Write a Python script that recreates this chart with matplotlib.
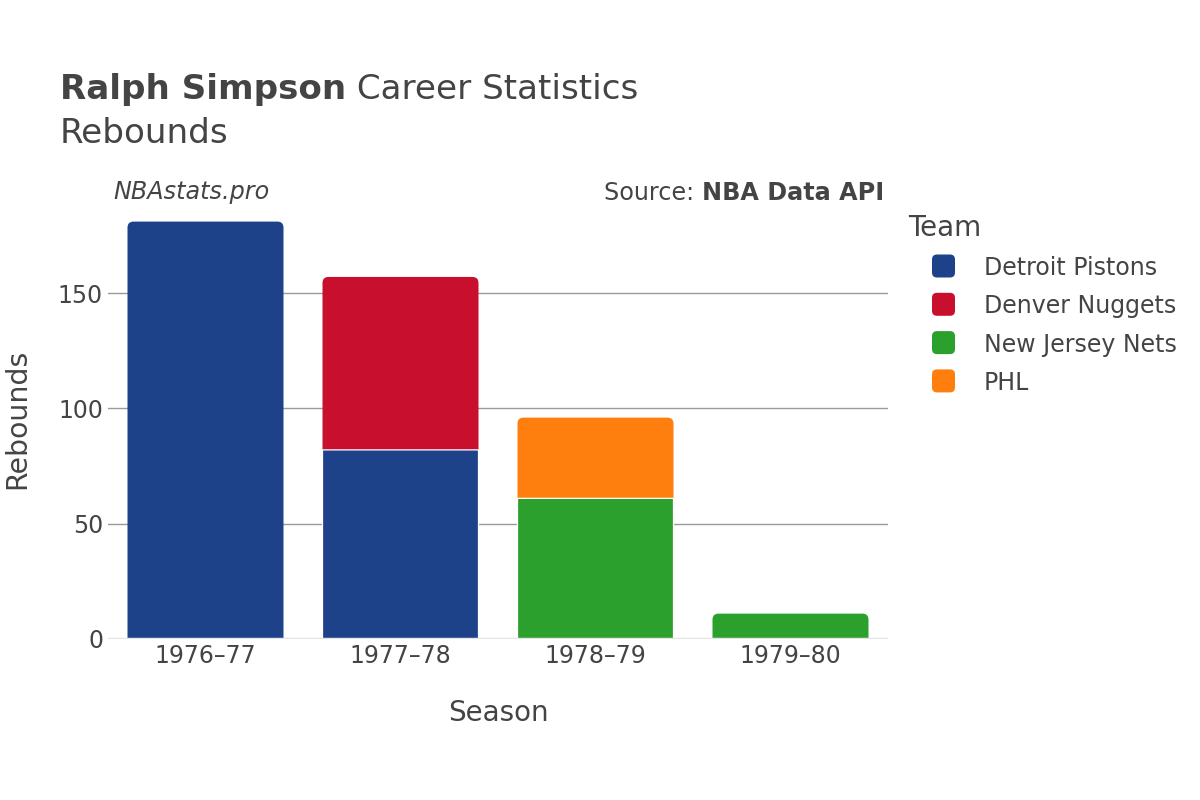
import numpy as np
import matplotlib
matplotlib.use("Agg")
import matplotlib.pyplot as plt
from matplotlib.patches import FancyBboxPatch, PathPatch
from matplotlib.path import Path

# ── Data ──────────────────────────────────────────────────────────────────────
seasons = ["1976–77", "1977–78", "1978–79", "1979–80"]
teams = ["Detroit Pistons", "Denver Nuggets", "New Jersey Nets", "PHL"]
team_colors = ["#1d428a", "#c8102e", "#2ca02c", "#ff7f0e"]

detroit = [181, 82, 0, 0]
denver = [0, 75, 0, 0]
new_jersey = [0, 0, 61, 11]
phl = [0, 0, 35, 0]
series = [detroit, denver, new_jersey, phl]

yticks = [0, 50, 100, 150]

TEXT = "#444444"
W, H = 1200, 800


def top_rounded_path(x0, y0, w, h, rx, ry):
    """Rectangle path with only the two top corners rounded."""
    x1, y1 = x0 + w, y0 + h
    ry = min(ry, h)
    verts = [(x0, y0), (x1, y0), (x1, y1 - ry), (x1, y1), (x1 - rx, y1),
             (x0 + rx, y1), (x0, y1), (x0, y1 - ry), (x0, y0)]
    codes = [Path.MOVETO, Path.LINETO, Path.LINETO, Path.CURVE3, Path.CURVE3,
             Path.LINETO, Path.CURVE3, Path.CURVE3, Path.CLOSEPOLY]
    return Path(verts, codes)


# ── Figure / axes ─────────────────────────────────────────────────────────────
fig = plt.figure(figsize=(W / 100, H / 100), dpi=100)
ax = fig.add_axes([108 / W, 1 - 639 / H, 780 / W, 437 / H])

x = np.arange(len(seasons))
ymax = 189.5
ax.set_xlim(-0.5, len(seasons) - 0.5)
ax.set_ylim(0, ymax)

# pixels per data unit, used to keep the bar corners circular
px_x = 780 / len(seasons)
px_y = 437 / ymax
corner_px = 6

bottom = np.zeros(len(seasons))
segments = [[] for _ in seasons]
for team, vals, color in zip(teams, series, team_colors):
    vals = np.array(vals, dtype=float)
    bars = ax.bar(x, vals, width=0.8, bottom=bottom, color=color,
                  edgecolor="white", linewidth=0.9, zorder=3)
    for i, b in enumerate(bars):
        b.set_snap(False)
        if vals[i] == 0:
            b.remove()
        else:
            segments[i].append(b)
    bottom += vals

# round the top corners of each stack
for segs in segments:
    if not segs:
        continue
    top = segs[-1]
    path = top_rounded_path(top.get_x(), top.get_y(), top.get_width(),
                            top.get_height(), corner_px / px_x,
                            corner_px / px_y)
    patch = PathPatch(path, facecolor=top.get_facecolor(), edgecolor="none",
                      zorder=2.5)
    patch.set_snap(False)
    top.remove()
    ax.add_patch(patch)

# ── Axes styling ──────────────────────────────────────────────────────────────
ax.set_yticks(yticks)
ax.set_xticks(x)
ax.set_xticklabels(seasons)
ax.yaxis.grid(True, color="#9a9a9a", linewidth=1)
ax.set_axisbelow(True)
ax.axhline(0, color="#e4e4e4", linewidth=2.5, zorder=4)
for s in ax.spines.values():
    s.set_visible(False)
ax.tick_params(axis="both", length=0, labelsize=17, labelcolor=TEXT)
ax.tick_params(axis="y", pad=3.6)
ax.tick_params(axis="x", pad=3.5)

fig.text(498 / W, 1 - 721 / H, "Season", fontsize=20, color=TEXT,
         ha="center", va="baseline")
fig.text(17 / W, 1 - 419 / H, "Rebounds", fontsize=20.4, color=TEXT,
         ha="center", va="center", rotation=90)

# ── Titles ────────────────────────────────────────────────────────────────────
t1 = fig.text(60 / W, 1 - 99 / H, "Ralph Simpson", fontsize=24.6,
              fontweight="bold", color=TEXT, va="baseline")
fig.canvas.draw()
bb = t1.get_window_extent()
fig.text(bb.x1 / W, 1 - 99 / H, " Career Statistics", fontsize=24.6,
         color=TEXT, va="baseline")
fig.text(60 / W, 1 - 143 / H, "Rebounds", fontsize=24.6, color=TEXT,
         va="baseline")

fig.text(113 / W, 1 - 199.5 / H, "NBAstats.pro", fontsize=17.2,
         style="italic", color=TEXT, va="baseline")
t2 = fig.text(884 / W, 1 - 199.5 / H, "NBA Data API", fontsize=17.2,
              fontweight="bold", color=TEXT, va="baseline", ha="right")
fig.canvas.draw()
bb = t2.get_window_extent()
fig.text(bb.x0 / W, 1 - 199.5 / H, "Source: ", fontsize=17.2, color=TEXT,
         va="baseline", ha="right")

# ── Legend ────────────────────────────────────────────────────────────────────
fig.text(908 / W, 1 - 236 / H, "Team", fontsize=20, color=TEXT,
         va="baseline")
size = 23
for i, (team, color) in enumerate(zip(teams, team_colors)):
    cy = 266 + i * 38.3
    fig.add_artist(FancyBboxPatch(
        ((943.5 - size / 2) / W, 1 - (cy + size / 2) / H), size / W, size / H,
        boxstyle=f"round,pad=0,rounding_size={5 / W}",
        mutation_aspect=W / H, transform=fig.transFigure,
        facecolor=color, edgecolor="none"))
    fig.text(984 / W, 1 - (cy + 9) / H, team, fontsize=17, color=TEXT,
             va="baseline")

fig.savefig("out.png", dpi=100)
